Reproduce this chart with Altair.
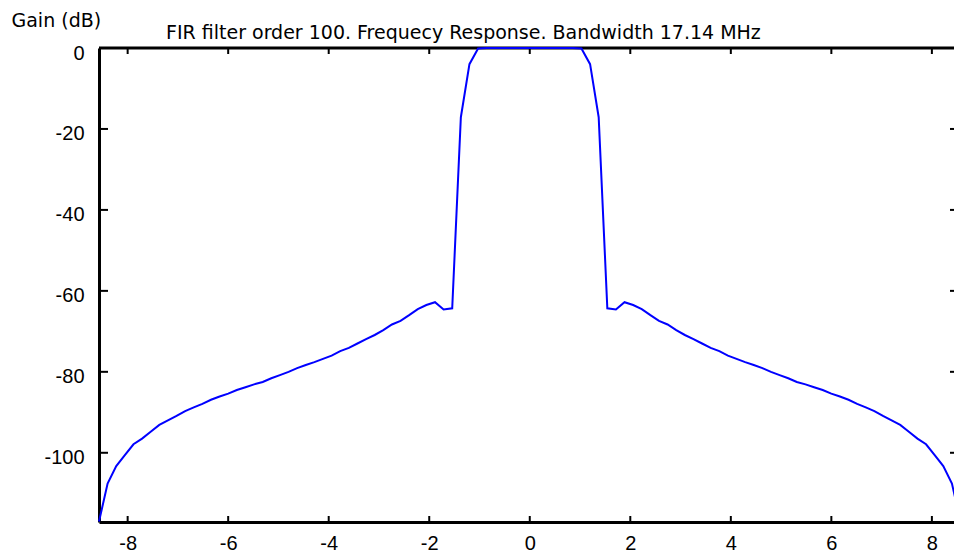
import altair as alt
import pandas as pd

# Frequency grid (MHz), 101 points across the 17.14 MHz bandwidth
freq = [
    -8.570, -8.399, -8.227, -8.056, -7.884, -7.713, -7.542, -7.370, -7.199, -7.027,
    -6.856, -6.685, -6.513, -6.342, -6.170, -5.999, -5.828, -5.656, -5.485, -5.313,
    -5.142, -4.971, -4.799, -4.628, -4.456, -4.285, -4.114, -3.942, -3.771, -3.599,
    -3.428, -3.257, -3.085, -2.914, -2.742, -2.571, -2.400, -2.228, -2.057, -1.885,
    -1.714, -1.543, -1.371, -1.200, -1.028, -0.857, -0.686, -0.514, -0.343, -0.171,
    0.000,
    0.171, 0.343, 0.514, 0.686, 0.857, 1.028, 1.200, 1.371, 1.543, 1.714,
    1.885, 2.057, 2.228, 2.400, 2.571, 2.742, 2.914, 3.085, 3.257, 3.428,
    3.599, 3.771, 3.942, 4.114, 4.285, 4.456, 4.628, 4.799, 4.971, 5.142,
    5.313, 5.485, 5.656, 5.828, 5.999, 6.170, 6.342, 6.513, 6.685, 6.856,
    7.027, 7.199, 7.370, 7.542, 7.713, 7.884, 8.056, 8.227, 8.399, 8.570,
]

# Gain (dB)
gain = [
    -117.0, -107.6, -103.3, -100.6, -97.9, -96.5, -94.8, -93.1, -92.0, -90.9,
    -89.7, -88.8, -87.9, -86.9, -86.1, -85.4, -84.5, -83.8, -83.1, -82.5,
    -81.6, -80.8, -80.0, -79.1, -78.3, -77.6, -76.8, -76.0, -74.9, -74.1,
    -73.0, -71.9, -70.9, -69.7, -68.3, -67.4, -66.0, -64.5, -63.5, -62.8,
    -64.6, -64.3, -17.1, -4.0, -0.1, 0.0, 0.0, 0.0, 0.0, 0.0,
    0.0,
    0.0, 0.0, 0.0, 0.0, 0.0, -0.1, -4.0, -17.1, -64.3, -64.6,
    -62.8, -63.5, -64.5, -66.0, -67.4, -68.3, -69.7, -70.9, -71.9, -73.0,
    -74.1, -74.9, -76.0, -76.8, -77.6, -78.3, -79.1, -80.0, -80.8, -81.6,
    -82.5, -83.1, -83.8, -84.5, -85.4, -86.1, -86.9, -87.9, -88.8, -89.7,
    -90.9, -92.0, -93.1, -94.8, -96.5, -97.9, -100.6, -103.3, -107.6, -117.0,
]

x_ticks = [-8, -6, -4, -2, 0, 2, 4, 6, 8]
y_ticks = [0, -20, -40, -60, -80, -100]

TITLE = "FIR filter order 100. Frequecy Response. Bandwidth 17.14 MHz"
Y_TITLE = "Gain (dB)"

W, H = 855, 474
X_DOMAIN = [-8.57, 8.44]
Y_DOMAIN = [-117.1, 0]

df = pd.DataFrame({"f": freq, "g": gain})
xt = pd.DataFrame({"f": x_ticks})
yt = pd.DataFrame({"g": y_ticks})
one = pd.DataFrame({"a": [0]})

xscale = alt.Scale(domain=X_DOMAIN, nice=False, zero=False)
yscale = alt.Scale(domain=Y_DOMAIN, nice=False, zero=False)

x_axis = alt.Axis(
    values=x_ticks, ticks=False, tickSize=0, grid=False,
    domainColor="black", domainWidth=3,
    labelFont="Liberation Sans", labelFontSize=20, labelColor="black",
    labelPadding=27, labelBaseline="alphabetic", labelAlign="center",
    labelFlush=False, labelOverlap=False,
    labelExpr="datum.value < 0 ? '' + datum.value + '\u00a0' : '' + datum.value",
)
y_axis = alt.Axis(
    values=y_ticks, ticks=False, tickSize=0, grid=False,
    domainColor="black", domainWidth=3,
    labelFont="Liberation Sans", labelFontSize=20, labelColor="black",
    labelPadding=15, labelBaseline="alphabetic", labelAlign="right",
    labelOffset=11, labelFlush=False, labelOverlap=False,
    labelExpr="'' + datum.value",
    titleAngle=0, titleAlign="left", titleBaseline="alphabetic",
    titleX=-88, titleY=-21.5, titleFont="DejaVu Sans", titleFontSize=19,
    titleFontWeight="normal", titleColor="black",
)

line = alt.Chart(df).mark_line(color="#0000ff", strokeWidth=2).encode(
    x=alt.X("f:Q", scale=xscale, title="", axis=x_axis),
    y=alt.Y("g:Q", scale=yscale, title=Y_TITLE, axis=y_axis),
)

tick_style = dict(color="black", strokeWidth=2)

xt_bottom = alt.Chart(xt).mark_rule(**tick_style).encode(
    x=alt.X("f:Q", scale=xscale, title=""),
    y=alt.value(H), y2=alt.value(H - 6),
)
xt_top = alt.Chart(xt).mark_rule(**tick_style).encode(
    x=alt.X("f:Q", scale=xscale, title=""),
    y=alt.value(0), y2=alt.value(6),
)
yt_left = alt.Chart(yt).mark_rule(**tick_style).encode(
    y=alt.Y("g:Q", scale=yscale, title=Y_TITLE),
    x=alt.value(0), x2=alt.value(9),
)
yt_right = alt.Chart(yt).mark_rule(**tick_style).encode(
    y=alt.Y("g:Q", scale=yscale, title=Y_TITLE),
    x=alt.value(W - 4), x2=alt.value(W),
)
top_line = alt.Chart(one).mark_rule(color="black", strokeWidth=3).encode(
    x=alt.value(0), x2=alt.value(W), y=alt.value(0),
)

chart = alt.layer(
    top_line, xt_bottom, xt_top, yt_left, yt_right, line
).properties(
    width=W, height=H,
    title=alt.TitleParams(
        TITLE, font="DejaVu Sans", fontSize=19, fontWeight="normal",
        color="black", anchor="start", frame="group", dx=67, dy=57,
        offset=10.5, baseline="alphabetic",
    ),
    padding={"left": 99, "top": 48, "right": 0, "bottom": 31},
    autosize=alt.AutoSizeParams(type="none"),
    background="white",
).configure_view(stroke=None).configure_axis(grid=False)

chart.save("out.html", embed_options={"renderer": "svg", "actions": False})
